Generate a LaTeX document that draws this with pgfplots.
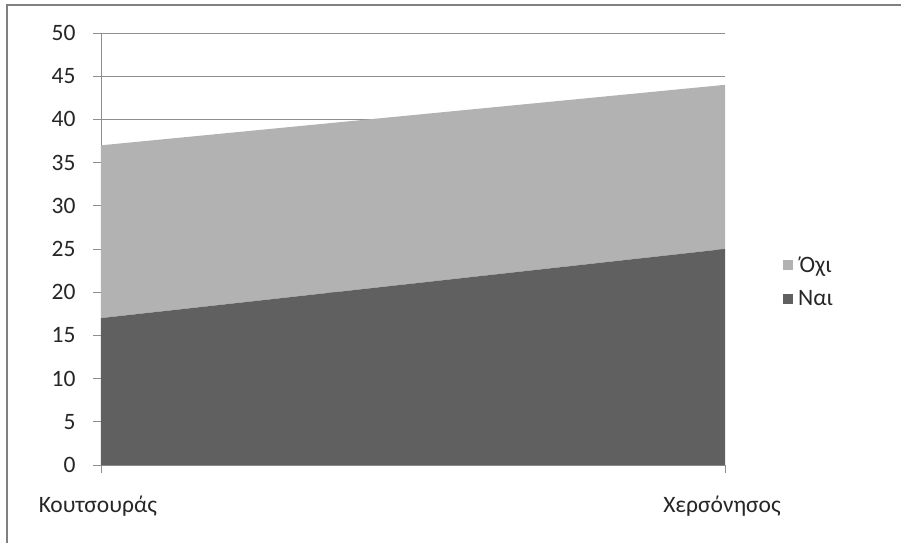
\documentclass[border=0pt]{standalone}
\usepackage{fontspec}
\setmainfont{Carlito}
\usepackage{pgfplots}
\pgfplotsset{compat=1.18}
\definecolor{darkarea}{HTML}{606060}
\definecolor{lightarea}{HTML}{B2B2B2}
\definecolor{gridc}{HTML}{8E8E8E}
\begin{document}
\begin{tikzpicture}[x=1pt,y=1pt]
\path[use as bounding box] (-101,-78) rectangle (800,465);
\draw[gridc!90!black, line width=1.6pt] (-94,-78) -- (-94,460) -- (800,460);
\begin{axis}[
  at={(0,0)}, anchor=origin,
  scale only axis, width=624pt, height=432pt,
  xmin=0, xmax=1, ymin=0, ymax=50,
  stack plots=y,
  axis lines*=left,
  axis line style={gridc, line width=0.8pt},
  ytick={0,5,...,50},
  xtick={0,1},
  xticklabels={Κουτσουράς, Χερσόνησος},
  ymajorgrids, major grid style={gridc, line width=0.8pt},
  tick align=outside, major tick length=8pt,
  tick style={gridc, line width=0.8pt},
  /pgf/number format/assume math mode=true,
  ticklabel style={font=\fontsize{23.5}{28}\selectfont, text=black!85},
  yticklabel style={xshift=-14pt},
  xticklabel style={yshift=-19pt, xshift=-3pt},
  reverse legend,
  legend style={at={(1.093,0.4236)}, anchor=west, draw=none, fill=none,
    font=\fontsize{23.5}{28}\selectfont, text=black!85, row sep=13pt,
    column sep=3pt, inner sep=0pt},
  legend image code/.code={\fill[#1] (0pt,-5pt) rectangle (10pt,5pt);},
  clip=false,
]
\addplot[fill=darkarea, draw=none] coordinates {(0,17) (1,25)} \closedcycle;
\addlegendentry{Ναι}
\addplot[fill=lightarea, draw=none] coordinates {(0,20) (1,19)} \closedcycle;
\addlegendentry{Όχι}
\end{axis}
\end{tikzpicture}
\end{document}
